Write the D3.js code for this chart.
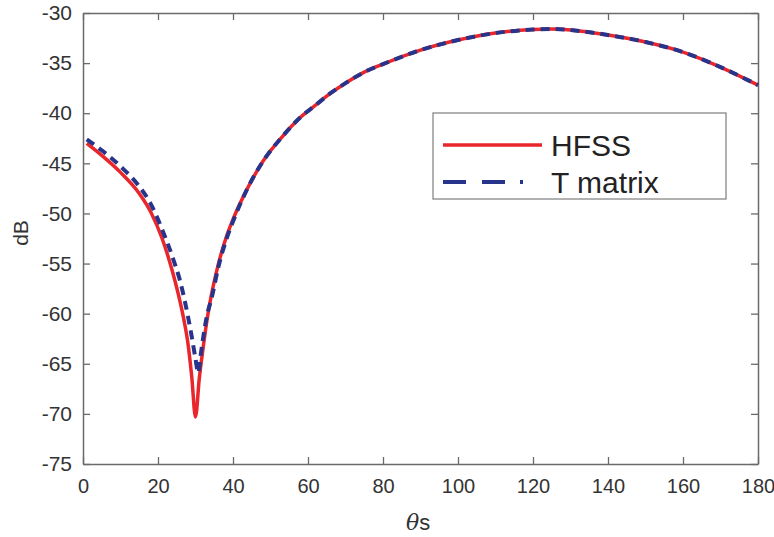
<!DOCTYPE html>
<html>
<head>
<meta charset="utf-8">
<script src="https://cdn.jsdelivr.net/npm/d3@7"></script>
<style>
  body { margin: 0; background: #fff; }
  text { font-family: "Liberation Sans", Arial, sans-serif; }
</style>
</head>
<body>
<div id="chart"></div>
<script>
const hfssTheta = [1, 5, 10, 15, 18, 21, 24, 26, 27, 28, 29, 30, 31, 32, 33, 34, 36, 38, 40, 44, 48, 53, 58, 62, 66, 70, 75, 80, 90, 100, 110, 120, 125, 130, 140, 150, 160, 170, 180]
const hfssDb = [-43.0, -44.2, -45.9, -48.0, -49.8, -52.4, -56.0, -59.0, -60.8, -63.0, -66.3, -70.3, -66.5, -63.5, -60.8, -58.6, -55.2, -52.6, -50.6, -47.4, -44.8, -42.4, -40.4, -39.2, -38.0, -37.0, -35.9, -35.1, -33.7, -32.7, -32.0, -31.65, -31.6, -31.7, -32.2, -32.9, -33.9, -35.4, -37.2]

const tmTheta = [1, 5, 10, 15, 18, 21, 24, 26, 28, 29, 30, 30.7, 31.5, 32, 33, 34.4, 36, 38.4, 40, 44, 48, 53, 58, 62, 66, 70, 75, 80, 90, 100, 110, 120, 125, 130, 140, 150, 160, 170, 180]
const tmDb = [-42.6, -43.7, -45.3, -47.3, -49.0, -51.5, -54.5, -56.9, -60.3, -62.3, -64.5, -65.9, -63.8, -62.5, -60.3, -58.3, -55.5, -52.4, -50.8, -47.4, -44.8, -42.4, -40.4, -39.2, -38.0, -37.0, -35.9, -35.1, -33.7, -32.7, -32.0, -31.65, -31.6, -31.7, -32.2, -32.9, -33.9, -35.4, -37.2]

const xTicks = [0, 20, 40, 60, 80, 100, 120, 140, 160, 180]
const yTicks = [-30, -35, -40, -45, -50, -55, -60, -65, -70, -75]
const seriesNames = ['HFSS', 'T matrix']

const W = 774, H = 537
const chart = {left: 83, top: 13, right: 758, bottom: 464}
const red = '#e8262b', blue = '#27348b', axisColor = '#6a6a6a', textColor = '#333'

const svg = d3.select('#chart').append('svg').attr('width', W).attr('height', H)

const x = d3.scaleLinear().domain([0, 180]).range([chart.left, chart.right])
const y = d3.scaleLinear().domain([-75, -30]).range([chart.bottom, chart.top])

const toPoints = (xs, ys) => xs.map((t, i) => ({t: t, v: ys[i]}))
const line = d3.line().x(d => x(d.t)).y(d => y(d.v)).curve(d3.curveMonotoneX)

// axes: bottom/left with labels, top/right mirrored ticks
const styleAxis = size => g => {
  g.select('.domain').attr('stroke', axisColor).attr('stroke-width', 1.5)
  g.selectAll('.tick line').attr('stroke', axisColor).attr('stroke-width', 1.3)
  g.selectAll('.tick text').attr('fill', textColor).style('font-size', size + 'px')
}

svg.append('g')
  .attr('transform', `translate(0,${chart.bottom})`)
  .call(d3.axisBottom(x).tickValues(xTicks).tickSizeInner(-7).tickSizeOuter(0).tickPadding(15))
  .call(styleAxis(20))

svg.append('g')
  .attr('transform', `translate(0,${chart.top})`)
  .call(d3.axisTop(x).tickValues(xTicks).tickSizeInner(-7).tickSizeOuter(0).tickFormat(''))
  .call(styleAxis(20))

svg.append('g')
  .attr('transform', `translate(${chart.left},0)`)
  .call(d3.axisLeft(y).tickValues(yTicks).tickSizeInner(-7).tickSizeOuter(0).tickPadding(11).tickFormat(d => d3.format('d')(d).replace('−', '-')))
  .call(styleAxis(21))

svg.append('g')
  .attr('transform', `translate(${chart.right},0)`)
  .call(d3.axisRight(y).tickValues(yTicks).tickSizeInner(-7).tickSizeOuter(0).tickFormat(''))
  .call(styleAxis(21))

// curves
svg.append('path')
  .datum(toPoints(hfssTheta, hfssDb))
  .attr('d', line)
  .attr('fill', 'none')
  .attr('stroke', red)
  .attr('stroke-width', 3.5)

svg.append('path')
  .datum(toPoints(tmTheta, tmDb))
  .attr('d', line)
  .attr('fill', 'none')
  .attr('stroke', blue)
  .attr('stroke-width', 4)
  .attr('stroke-dasharray', '9,6')

// axis labels
const xl = svg.append('text')
  .attr('x', 418).attr('y', 530)
  .attr('text-anchor', 'middle')
  .attr('fill', textColor)
  .style('font-size', '22px')
xl.append('tspan').text('θ').style('font-style', 'italic').style('font-family', '"DejaVu Serif", serif')
xl.append('tspan').text('s')

svg.append('text')
  .attr('transform', 'translate(28,233) rotate(-90)')
  .attr('text-anchor', 'middle')
  .attr('fill', textColor)
  .style('font-size', '21px')
  .text('dB')

// legend
const legend = svg.append('g')
legend.append('rect')
  .attr('x', 433).attr('y', 113).attr('width', 293).attr('height', 86)
  .attr('fill', '#fff').attr('stroke', '#888').attr('stroke-width', 1.3)

const legendRows = [
  {name: seriesNames[0], color: red, width: 3.5, dash: null, cy: 145},
  {name: seriesNames[1], color: blue, width: 4, dash: '23,16,23,15,3,30', cy: 182}
]
legendRows.forEach(r => {
  legend.append('line')
    .attr('x1', 443).attr('x2', 542).attr('y1', r.cy).attr('y2', r.cy)
    .attr('stroke', r.color).attr('stroke-width', r.width)
    .attr('stroke-dasharray', r.dash)
  legend.append('text')
    .attr('x', 551).attr('y', r.cy + 11)
    .attr('fill', '#222')
    .style('font-size', '30px')
    .text(r.name)
})
</script>
</body>
</html>
